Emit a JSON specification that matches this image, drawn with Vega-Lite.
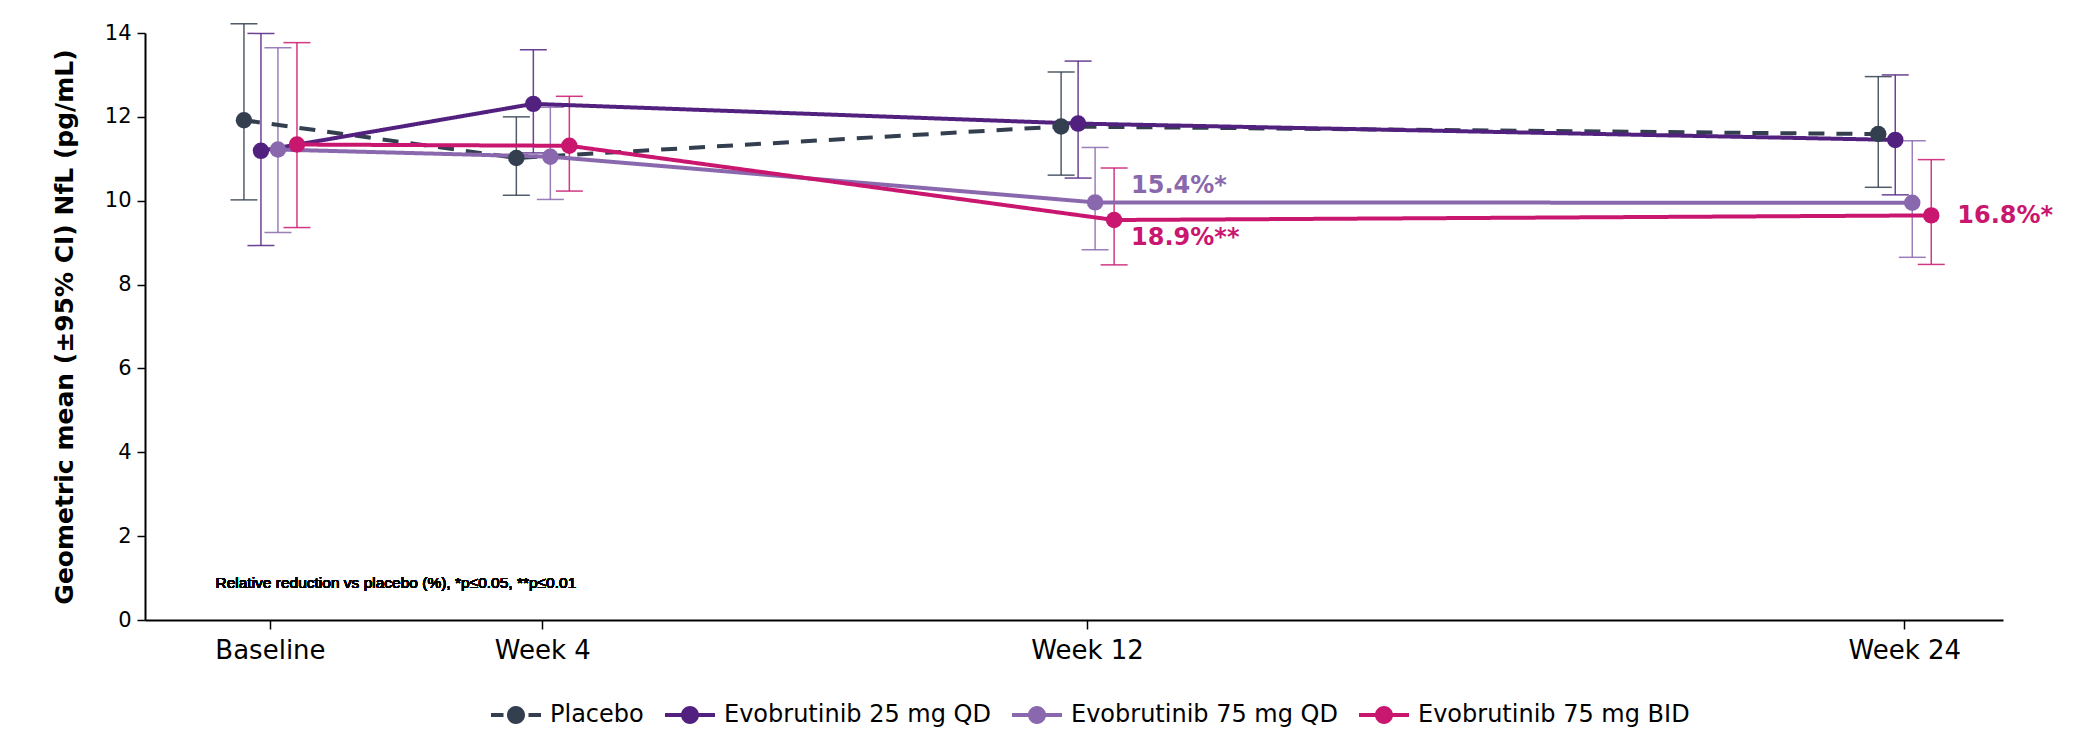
{
  "$schema": "https://vega.github.io/schema/vega-lite/v6.json",
  "width": 1858,
  "height": 587,
  "autosize": {"type": "none"},
  "padding": {"left": 145, "top": 33, "right": 81, "bottom": 111},
  "background": "white",
  "config": {
    "font": "DejaVu Sans",
    "view": {"stroke": null},
    "axis": {"grid": false, "domainColor": "#000", "domainWidth": 2, "tickColor": "#000", "tickWidth": 1.5, "labelColor": "#000", "titleColor": "#000"},
    "legend": {"symbolSize": 2500, "symbolStrokeWidth": 0, "labelFontSize": 24, "labelColor": "#000", "labelOffset": 9, "columnPadding": 21, "padding": 0, "labelLimit": 0}
  },
  "data": {"values": [
    {"series": "Placebo", "week": 0, "mean": 11.92, "lo": 10.02, "hi": 14.22},
    {"series": "Placebo", "week": 4, "mean": 11.02, "lo": 10.13, "hi": 12.0},
    {"series": "Placebo", "week": 12, "mean": 11.77, "lo": 10.61, "hi": 13.07},
    {"series": "Placebo", "week": 24, "mean": 11.59, "lo": 10.32, "hi": 12.96},
    {"series": "Evobrutinib 25 mg QD", "week": 0, "mean": 11.19, "lo": 8.93, "hi": 13.99},
    {"series": "Evobrutinib 25 mg QD", "week": 4, "mean": 12.31, "lo": 11.14, "hi": 13.6},
    {"series": "Evobrutinib 25 mg QD", "week": 12, "mean": 11.84, "lo": 10.54, "hi": 13.33},
    {"series": "Evobrutinib 25 mg QD", "week": 24, "mean": 11.45, "lo": 10.14, "hi": 13.0},
    {"series": "Evobrutinib 75 mg QD", "week": 0, "mean": 11.22, "lo": 9.24, "hi": 13.65},
    {"series": "Evobrutinib 75 mg QD", "week": 4, "mean": 11.05, "lo": 10.03, "hi": 12.23},
    {"series": "Evobrutinib 75 mg QD", "week": 12, "mean": 9.96, "lo": 8.83, "hi": 11.27},
    {"series": "Evobrutinib 75 mg QD", "week": 24, "mean": 9.95, "lo": 8.65, "hi": 11.43},
    {"series": "Evobrutinib 75 mg BID", "week": 0, "mean": 11.34, "lo": 9.36, "hi": 13.77},
    {"series": "Evobrutinib 75 mg BID", "week": 4, "mean": 11.31, "lo": 10.23, "hi": 12.49},
    {"series": "Evobrutinib 75 mg BID", "week": 12, "mean": 9.54, "lo": 8.47, "hi": 10.78},
    {"series": "Evobrutinib 75 mg BID", "week": 24, "mean": 9.65, "lo": 8.48, "hi": 10.98}
  ]},
  "layer": [
    {
      "transform": [{"filter": "false"}],
      "mark": {"type": "point", "filled": true, "opacity": 1},
      "encoding": {
        "color": {"field": "series", "type": "nominal", "scale": {"domain": ["Placebo", "Evobrutinib 25 mg QD", "Evobrutinib 75 mg QD", "Evobrutinib 75 mg BID"], "range": ["#333f4f", "#52217f", "#8a68ad", "#c9166f"]},
          "legend": {"title": null, "orient": "none", "direction": "horizontal", "legendX": 346, "legendY": 657}},
        "shape": {"field": "series", "type": "nominal", "scale": {"domain": ["Placebo", "Evobrutinib 25 mg QD", "Evobrutinib 75 mg QD", "Evobrutinib 75 mg BID"], "range": [
          "M-1,-0.08H-0.5V0.08H-1Z M0.5,-0.08H1V0.08H0.5Z M0.36,0A0.36,0.36,0,1,1,-0.36,0A0.36,0.36,0,1,1,0.36,0Z",
          "M-1,-0.08H1V0.08H-1Z M0.36,0A0.36,0.36,0,1,1,-0.36,0A0.36,0.36,0,1,1,0.36,0Z",
          "M-1,-0.08H1V0.08H-1Z M0.36,0A0.36,0.36,0,1,1,-0.36,0A0.36,0.36,0,1,1,0.36,0Z",
          "M-1,-0.08H1V0.08H-1Z M0.36,0A0.36,0.36,0,1,1,-0.36,0A0.36,0.36,0,1,1,0.36,0Z"]},
          "legend": {"title": null, "orient": "none", "direction": "horizontal", "legendX": 346, "legendY": 657}}
      }
    },
    {
      "mark": {"type": "rule", "strokeWidth": 1.5, "opacity": 0.85, "xOffset": {"expr": "datum.series === 'Placebo' ? -26 : datum.series === 'Evobrutinib 25 mg QD' ? -9 : datum.series === 'Evobrutinib 75 mg QD' ? 8 : 27"}},
      "encoding": {
        "x": {"field": "week", "type": "quantitative", "scale": {"domain": [-1.835, 25.45], "nice": false, "zero": false},
          "axis": {"title": null, "values": [0, 4, 12, 24], "labelExpr": "datum.value == 0 ? 'Baseline' : 'Week ' + datum.value", "labelFontSize": 26, "tickSize": 9, "labelPadding": 8}},
        "y": {"field": "lo", "type": "quantitative", "scale": {"domain": [0, 14], "nice": false},
          "axis": {"title": "Geometric mean (±95% CI) NfL (pg/mL)", "titleFontSize": 25, "titleFontWeight": "bold", "titlePadding": 27, "values": [0, 2, 4, 6, 8, 10, 12, 14], "labelFontSize": 21, "tickSize": 8, "labelPadding": 6}},
        "y2": {"field": "hi"},
        "color": {"field": "series", "type": "nominal"}
      }
    },
    {
      "mark": {"type": "tick", "orient": "horizontal", "size": 27, "thickness": 1.5, "opacity": 0.85, "xOffset": {"expr": "datum.series === 'Placebo' ? -26 : datum.series === 'Evobrutinib 25 mg QD' ? -9 : datum.series === 'Evobrutinib 75 mg QD' ? 8 : 27"}},
      "encoding": {
        "x": {"field": "week", "type": "quantitative"},
        "y": {"field": "lo", "type": "quantitative"},
        "color": {"field": "series", "type": "nominal"}
      }
    },
    {
      "mark": {"type": "tick", "orient": "horizontal", "size": 27, "thickness": 1.5, "opacity": 0.85, "xOffset": {"expr": "datum.series === 'Placebo' ? -26 : datum.series === 'Evobrutinib 25 mg QD' ? -9 : datum.series === 'Evobrutinib 75 mg QD' ? 8 : 27"}},
      "encoding": {
        "x": {"field": "week", "type": "quantitative"},
        "y": {"field": "hi", "type": "quantitative"},
        "color": {"field": "series", "type": "nominal"}
      }
    },
    {
      "mark": {"type": "line", "strokeWidth": 4, "xOffset": {"expr": "datum.series === 'Placebo' ? -26 : datum.series === 'Evobrutinib 25 mg QD' ? -9 : datum.series === 'Evobrutinib 75 mg QD' ? 8 : 27"}},
      "encoding": {
        "x": {"field": "week", "type": "quantitative"},
        "y": {"field": "mean", "type": "quantitative"},
        "color": {"field": "series", "type": "nominal"},
        "strokeDash": {"field": "series", "type": "nominal", "scale": {"domain": ["Placebo", "Evobrutinib 25 mg QD", "Evobrutinib 75 mg QD", "Evobrutinib 75 mg BID"], "range": [[16, 12], [1, 0], [1, 0], [1, 0]]}, "legend": null}
      }
    },
    {
      "mark": {"type": "circle", "size": 270, "opacity": 1, "xOffset": {"expr": "datum.series === 'Placebo' ? -26 : datum.series === 'Evobrutinib 25 mg QD' ? -9 : datum.series === 'Evobrutinib 75 mg QD' ? 8 : 27"}},
      "encoding": {
        "x": {"field": "week", "type": "quantitative"},
        "y": {"field": "mean", "type": "quantitative"},
        "color": {"field": "series", "type": "nominal"}
      }
    },
    {
      "data": {"values": [
        {"series": "Evobrutinib 75 mg QD", "week": 12, "value": 10.36, "label": "15.4%*"},
        {"series": "Evobrutinib 75 mg BID", "week": 12, "value": 9.12, "label": "18.9%**"},
        {"series": "Evobrutinib 75 mg BID", "week": 24, "value": 9.64, "label": "16.8%*"}
      ]},
      "mark": {"type": "text", "align": "left", "baseline": "middle", "fontSize": 24, "fontWeight": "bold", "dx": {"expr": "datum.week == 24 ? 53 : 44"}},
      "encoding": {
        "x": {"field": "week", "type": "quantitative"},
        "y": {"field": "value", "type": "quantitative"},
        "text": {"field": "label"},
        "color": {"field": "series", "type": "nominal"}
      }
    },
    {
      "mark": {"type": "text", "align": "left", "baseline": "middle", "fontSize": 15.5, "color": "#000", "font": "Liberation Sans"},
      "encoding": {
        "x": {"datum": -0.8},
        "y": {"datum": 0.88},
        "text": {"value": "Relative reduction vs placebo (%), *p≤0.05, **p≤0.01"}
      }
    }
  ]
}
